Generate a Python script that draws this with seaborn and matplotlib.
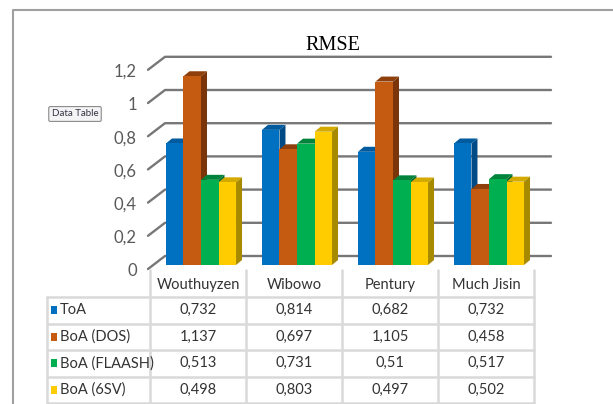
import matplotlib
matplotlib.use('Agg')
import matplotlib.pyplot as plt
from matplotlib.patches import Polygon, Rectangle
from matplotlib.lines import Line2D
from matplotlib.transforms import IdentityTransform
import seaborn as sns
import pandas as pd

# data
sites = ['Wouthuyzen', 'Wibowo', 'Pentury', 'Much Jisin']
series = ['ToA', 'BoA (DOS)', 'BoA (FLAASH)', 'BoA (6SV)']
toa = [0.732, 0.814, 0.682, 0.732]
boa_dos = [1.137, 0.697, 1.105, 0.458]
boa_flaash = [0.513, 0.731, 0.51, 0.517]
boa_6sv = [0.498, 0.803, 0.497, 0.502]
yticks = [0, 0.2, 0.4, 0.6, 0.8, 1, 1.2]

front = ['#0070C0', '#C55A11', '#00B050', '#FFCC00']
top_c = ['#005a9e', '#8e3f0b', '#00833b', '#d4a900']
side_c = ['#004a85', '#7a360a', '#006e31', '#a88a00']

vals = [toa, boa_dos, boa_flaash, boa_6sv]
df = pd.DataFrame([(s, n, v) for n, vs in zip(series, vals) for s, v in zip(sites, vs)],
                  columns=['site', 'series', 'rmse'])

sns.set_style('white')
plt.rcParams['font.family'] = ['Lato', 'DejaVu Sans']

W, H = 613, 404
fig = plt.figure(figsize=(W / 100, H / 100), dpi=100)
ax = fig.add_axes([165 / W, (H - 265) / H, 386 / W, 225 / H])

sns.barplot(data=df, x='site', y='rmse', hue='series', palette=front,
            width=0.73, gap=0, saturation=1, legend=False, ax=ax)
ax.set_xlim(-0.375, 3.646)
ax.set_ylim(0, 225 / 166)
ax.axis('off')

def py(y):
    return H - y

# 3d look: top and side faces on every bar
dx, dy = 6, 5
for j, cont in enumerate(ax.containers):
    for bar in cont:
        bar.set_edgecolor('none')
        bar.set_zorder(4 + 3 * j)
        (x0, y0), (x1, y1) = ax.transData.transform(
            [(bar.get_x(), 0), (bar.get_x() + bar.get_width(), bar.get_height())])
        ax.add_patch(Polygon([(x0, y1), (x1, y1), (x1 + dx, y1 + dy), (x0 + dx, y1 + dy)],
                             closed=True, fc=top_c[j], ec='none', transform=IdentityTransform(),
                             zorder=3 + 3 * j, clip_on=False))
        ax.add_patch(Polygon([(x1, y0), (x1 + dx, y0 + dy), (x1 + dx, y1 + dy), (x1, y1)],
                             closed=True, fc=side_c[j], ec='none', transform=IdentityTransform(),
                             zorder=3 + 3 * j, clip_on=False))

# back wall gridlines with slanted left ends, tick labels
xl = ax.transAxes.transform((0, 0))[0]
xr = ax.transAxes.transform((1, 0))[0]
for v in yticks:
    yd = ax.transData.transform((0, v))[1]
    ax.add_line(Line2D([xl - 17, xl, xr], [yd - 4, yd + 9, yd + 9], color='#777777', lw=1.7,
                       transform=IdentityTransform(), zorder=1, clip_on=False))
    lab = ('%g' % v).replace('.', ',')
    fig.text((xl - 28) / W, (yd - 6) / H, lab, ha='right', va='center', fontsize=12, color='#595959')

fig.text(333 / W, py(45) / H, 'RMSE', ha='center', va='center', fontsize=14.5,
         family='Liberation Serif', color='black')

# data table under the plot
grid = '#d9d9d9'
cx = [ax.transData.transform((k, 0))[0] - 3 for k in range(len(sites))]
half = (cx[1] - cx[0]) / 2
edges = [c - half for c in cx] + [cx[-1] + half]
rows = [297, 323.5, 350, 376.5, 403]
left = 47
for e in edges:
    fig.add_artist(Line2D([e, e], [py(270), py(404)], color=grid, lw=1.8, transform=IdentityTransform()))
fig.add_artist(Line2D([left, left], [py(rows[0]), py(404)], color=grid, lw=1.8, transform=IdentityTransform()))
for r in rows:
    fig.add_artist(Line2D([left, edges[-1]], [py(r), py(r)], color=grid, lw=1.8, transform=IdentityTransform()))

for c, s in zip(cx, sites):
    fig.text(c / W, py(285) / H, s, ha='center', va='center', fontsize=10.5, color='#333333')
for i, (n, vs) in enumerate(zip(series, vals)):
    yc = (rows[i] + rows[i + 1]) / 2
    fig.add_artist(Rectangle((51, py(yc) - 4), 6, 8, fc=front[i], ec='none', transform=IdentityTransform()))
    fig.text(60 / W, py(yc) / H, n, ha='left', va='center', fontsize=10.5, color='#333333')
    for c, v in zip(cx, vs):
        fig.text(c / W, py(yc) / H, ('%g' % v).replace('.', ','), ha='center', va='center',
                 fontsize=10.5, color='#333333')

# outer chart frame
fig.add_artist(Line2D([13, 13, W], [0, py(10), py(10)], color='#a0a0a0', lw=1.5, transform=IdentityTransform()))

# "Data Table" tooltip
fig.text(75 / W, py(114) / H, 'Data Table', ha='center', va='center', fontsize=7, color='#333344',
         bbox=dict(boxstyle='round,pad=0.3,rounding_size=0.15', fc='#f4f4f6', ec='#8a8a8a', lw=0.8))

fig.savefig('out.png', dpi=100)
